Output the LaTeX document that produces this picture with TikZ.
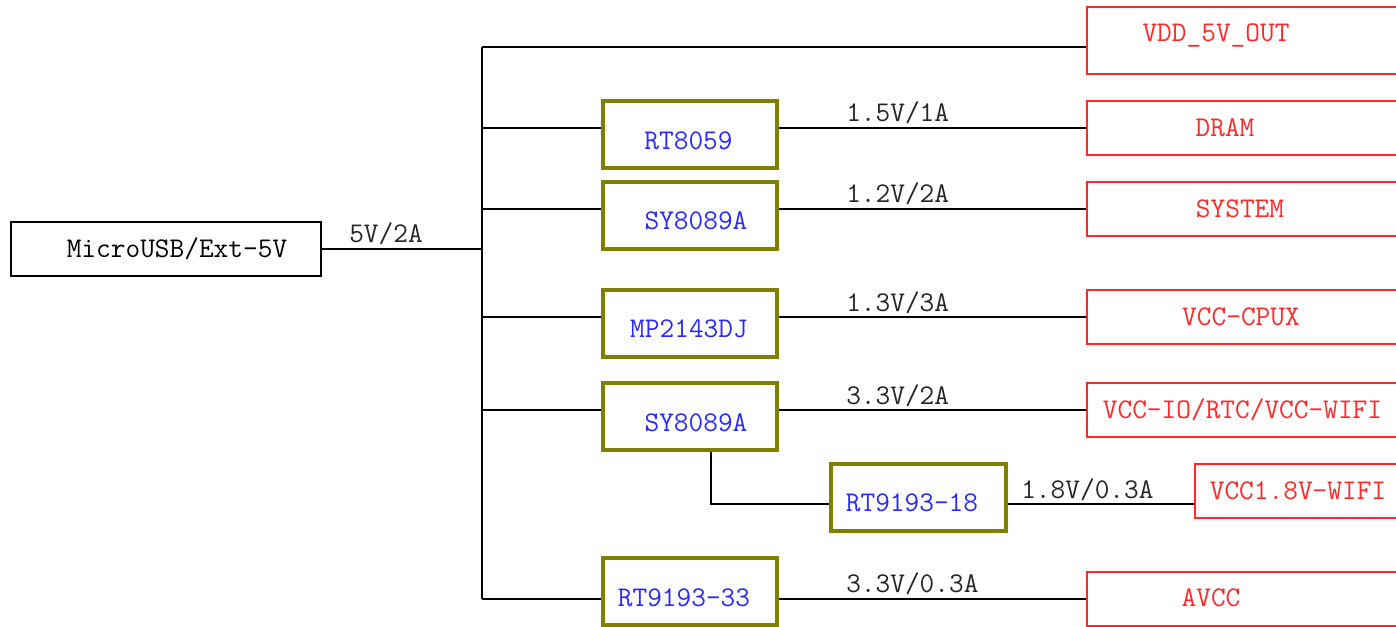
\documentclass[tikz,border=0pt]{standalone}
\usepackage{fontspec}
\definecolor{olivebox}{RGB}{128,128,0}
\definecolor{bluetxt}{RGB}{40,40,255}
\definecolor{redbox}{RGB}{255,40,40}
\begin{document}
\begin{tikzpicture}[x=0.75pt,y=-0.75pt,
  every node/.style={font=\ttfamily\fontsize{21.4pt}{23pt}\selectfont, inner sep=0pt},
  wire/.style={draw=black, line width=0.9pt},
  srcbox/.style 2 args={draw=black, line width=0.9pt, minimum width=#1*0.75pt, minimum height=#2*0.75pt},
  regbox/.style 2 args={draw=olivebox, line width=3pt, fill=white, minimum width=#1*0.75pt, minimum height=#2*0.75pt},
  outbox/.style 2 args={draw=redbox, line width=1pt, minimum width=#1*0.75pt, minimum height=#2*0.75pt},
  regtxt/.style={text=bluetxt},
  outtxt/.style={text=redbox},
  vlabel/.style={anchor=base west, text=black!85}]
\useasboundingbox (0,0) rectangle (1396,627);
% source
\node[srcbox={310}{54}] (src) at (166,249) {};
\node (srct) at (177,249) {MicroUSB/Ext-5V};
% regulators
\node[regbox={174}{67}] (r1) at (690,134.5) {};
\node[regbox={174}{67}] (r2) at (690,215.5) {};
\node[regbox={174}{67}] (r3) at (690,323.5) {};
\node[regbox={174}{67}] (r4) at (690,416.5) {};
\node[regbox={175}{67}] (r5) at (918.5,497.5) {};
\node[regbox={174}{67}] (r6) at (690,591.5) {};
\node[regtxt] (r1t) at (688.5,140.5) {RT8059};
\node[regtxt] (r2t) at (696,221) {SY8089A};
\node[regtxt] (r3t) at (689,329) {MP2143DJ};
\node[regtxt] (r4t) at (696,423) {SY8089A};
\node[regtxt] (r5t) at (912,503) {RT9193-18};
\node[regtxt] (r6t) at (684,597.5) {RT9193-33};
% outputs
\node[outbox={320}{67}] (o0) at (1247,40.5) {};
\node[outbox={320}{54}] (o1) at (1247,128) {};
\node[outbox={320}{54}] (o2) at (1247,209) {};
\node[outbox={320}{54}] (o3) at (1247,317) {};
\node[outbox={320}{54}] (o4) at (1247,410) {};
\node[outbox={212}{54}] (o5) at (1301,491) {};
\node[outbox={320}{54}] (o6) at (1247,599) {};
\node[outtxt, anchor=base] (o0t) at (1216,42) {VDD\_5V\_OUT};
\node[outtxt] (o1t) at (1225,128) {DRAM};
\node[outtxt] (o2t) at (1240,209) {SYSTEM};
\node[outtxt] (o3t) at (1241,317) {VCC-CPUX};
\node[outtxt] (o4t) at (1242.5,410) {VCC-IO/RTC/VCC-WIFI};
\node[outtxt] (o5t) at (1298,491) {VCC1.8V-WIFI};
\node[outtxt] (o6t) at (1211,598) {AVCC};
% bus coordinates
\coordinate (bs) at (482,249);
\coordinate (b0) at (482,47);
\coordinate (b1) at (482,128);
\coordinate (b2) at (482,209);
\coordinate (b3) at (482,317);
\coordinate (b4) at (482,410);
\coordinate (b6) at (482,599);
\coordinate (t5) at (711,504);
% wires
\draw[wire] (src.east |- bs) -- (bs);
\draw[wire] (b0) -- (b6);
\draw[wire] (b0) -- (b0 -| o0.west);
\draw[wire] (b1) -- (b1 -| r1.west);
\draw[wire] (b1 -| r1.east) -- (b1 -| o1.west);
\draw[wire] (b2) -- (b2 -| r2.west);
\draw[wire] (b2 -| r2.east) -- (b2 -| o2.west);
\draw[wire] (b3) -- (b3 -| r3.west);
\draw[wire] (b3 -| r3.east) -- (b3 -| o3.west);
\draw[wire] (b4) -- (b4 -| r4.west);
\draw[wire] (b4 -| r4.east) -- (b4 -| o4.west);
\draw[wire] (b6) -- (b6 -| r6.west);
\draw[wire] (b6 -| r6.east) -- (b6 -| o6.west);
\draw[wire] (t5 |- r4.south) -- (t5) -- (t5 -| r5.west);
\draw[wire] (t5 -| r5.east) -- (t5 -| o5.west);
% voltage labels
\node[vlabel] (l0) at (349,243) {5V/2A};
\node[vlabel] (l1) at (846,122) {1.5V/1A};
\node[vlabel] (l2) at (846,203) {1.2V/2A};
\node[vlabel] (l3) at (846,311) {1.3V/3A};
\node[vlabel] (l4) at (846,404) {3.3V/2A};
\node[vlabel] (l5) at (1021,498) {1.8V/0.3A};
\node[vlabel] (l6) at (846,592) {3.3V/0.3A};
\end{tikzpicture}
\end{document}
